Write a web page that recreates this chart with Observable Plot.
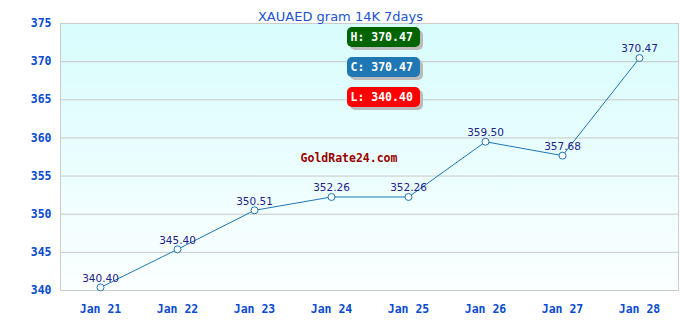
<!DOCTYPE html>
<html><head><meta charset="utf-8">
<script src="https://cdn.jsdelivr.net/npm/d3@7"></script>
<script src="https://cdn.jsdelivr.net/npm/@observablehq/plot@0.6"></script>
<style>body{margin:0;background:#fff}</style>
</head><body><div id="chart"></div>
<script>
const title = "XAUAED gram 14K 7days";
const watermark = "GoldRate24.com";
const dates = ["Jan 21", "Jan 22", "Jan 23", "Jan 24", "Jan 25", "Jan 26", "Jan 27", "Jan 28"];
const prices = [340.40, 345.40, 350.51, 352.26, 352.26, 359.50, 357.68, 370.47];
const yTicks = [340, 345, 350, 355, 360, 365, 370, 375];
const badgeLabels = ["H", "C", "L"];
const badgeColors = ["#006400", "#1f77b4", "#ff0000"];
const badgeValues = [d3.max(prices), prices[prices.length - 1], d3.min(prices)];

const data = dates.map((d, i) => ({date: d, price: prices[i]}));
const fmt = d3.format(".2f");

const background = (index, scales, values, dims) => {
  const {width, height, marginLeft, marginRight, marginTop, marginBottom} = dims;
  const g = d3.create("svg:g");
  const grad = g.append("defs").append("linearGradient")
    .attr("id", "bggrad").attr("x1", 0).attr("y1", 0).attr("x2", 0).attr("y2", 1);
  grad.append("stop").attr("offset", "0%").attr("stop-color", "#d8fcfc");
  grad.append("stop").attr("offset", "100%").attr("stop-color", "#fbffff");
  g.append("rect")
    .attr("x", marginLeft).attr("y", marginTop)
    .attr("width", width - marginLeft - marginRight)
    .attr("height", height - marginTop - marginBottom)
    .attr("fill", "url(#bggrad)");
  return g.node();
};

const badges = (index, scales, values, dims) => {
  const {width, marginLeft, marginRight, marginTop} = dims;
  const cx = (marginLeft + width - marginRight) / 2;
  const bx = cx - 22, bw = 73, bh = 20;
  const g = d3.create("svg:g");
  badgeLabels.forEach((lab, i) => {
    const by = marginTop + 4 + i * 30;
    g.append("rect").attr("x", bx + 3).attr("y", by + 3).attr("width", bw).attr("height", bh)
      .attr("rx", 5).attr("fill", "#bbbbbb");
    g.append("rect").attr("x", bx).attr("y", by).attr("width", bw).attr("height", bh)
      .attr("rx", 5).attr("fill", badgeColors[i]);
    g.append("text").attr("x", bx + 3.5).attr("y", by + bh / 2).attr("dy", "0.35em")
      .attr("text-anchor", "start")
      .attr("fill", "white").attr("font-family", "DejaVu Sans Mono")
      .attr("font-weight", "bold").attr("font-size", 11.5)
      .text(`${lab}: ${fmt(badgeValues[i])}`);
  });
  return g.node();
};

const lineColor = "#1f77b4";
const axisColor = "#0a4bd0";

const chart = Plot.plot({
  width: 680,
  height: 320,
  marginLeft: 60,
  marginRight: 2,
  marginTop: 23,
  marginBottom: 30,
  x: {type: "point", domain: dates, padding: 0.5},
  y: {domain: [340, 375]},
  marks: [
    background,
    Plot.gridY(yTicks, {stroke: "#c8c8c8", strokeOpacity: 1}),
    Plot.frame({stroke: "#cccccc"}),
    Plot.axisY({ticks: yTicks, tickSize: 0, tickPadding: 9, fill: axisColor,
      fontFamily: "DejaVu Sans Mono", fontWeight: "bold", fontSize: 11.5, label: null}),
    Plot.axisX({tickSize: 0, tickPadding: 14, fill: axisColor,
      fontFamily: "DejaVu Sans Mono", fontWeight: "bold", fontSize: 11.5, label: null}),
    Plot.line(data, {x: "date", y: "price", stroke: lineColor, strokeWidth: 1}),
    Plot.dot(data, {x: "date", y: "price", r: 3.5, stroke: lineColor, fill: "white", strokeWidth: 1}),
    Plot.text(data, {x: "date", y: "price", text: d => fmt(d.price), dy: -9,
      fill: "#222288", fontFamily: "DejaVu Sans", fontSize: 10.5}),
    Plot.text([watermark], {text: d => d, frameAnchor: "middle", dx: -20.5, dy: 1.5,
      fill: "#990000", fontFamily: "DejaVu Sans Mono", fontWeight: "bold", fontSize: 11.5}),
    badges,
    Plot.text([title], {text: d => d, frameAnchor: "top", dx: -29, dy: -12,
      fill: "#2255cc", fontFamily: "DejaVu Sans", fontSize: 13})
  ]
});
document.getElementById("chart").appendChild(chart);
</script>
</body></html>
